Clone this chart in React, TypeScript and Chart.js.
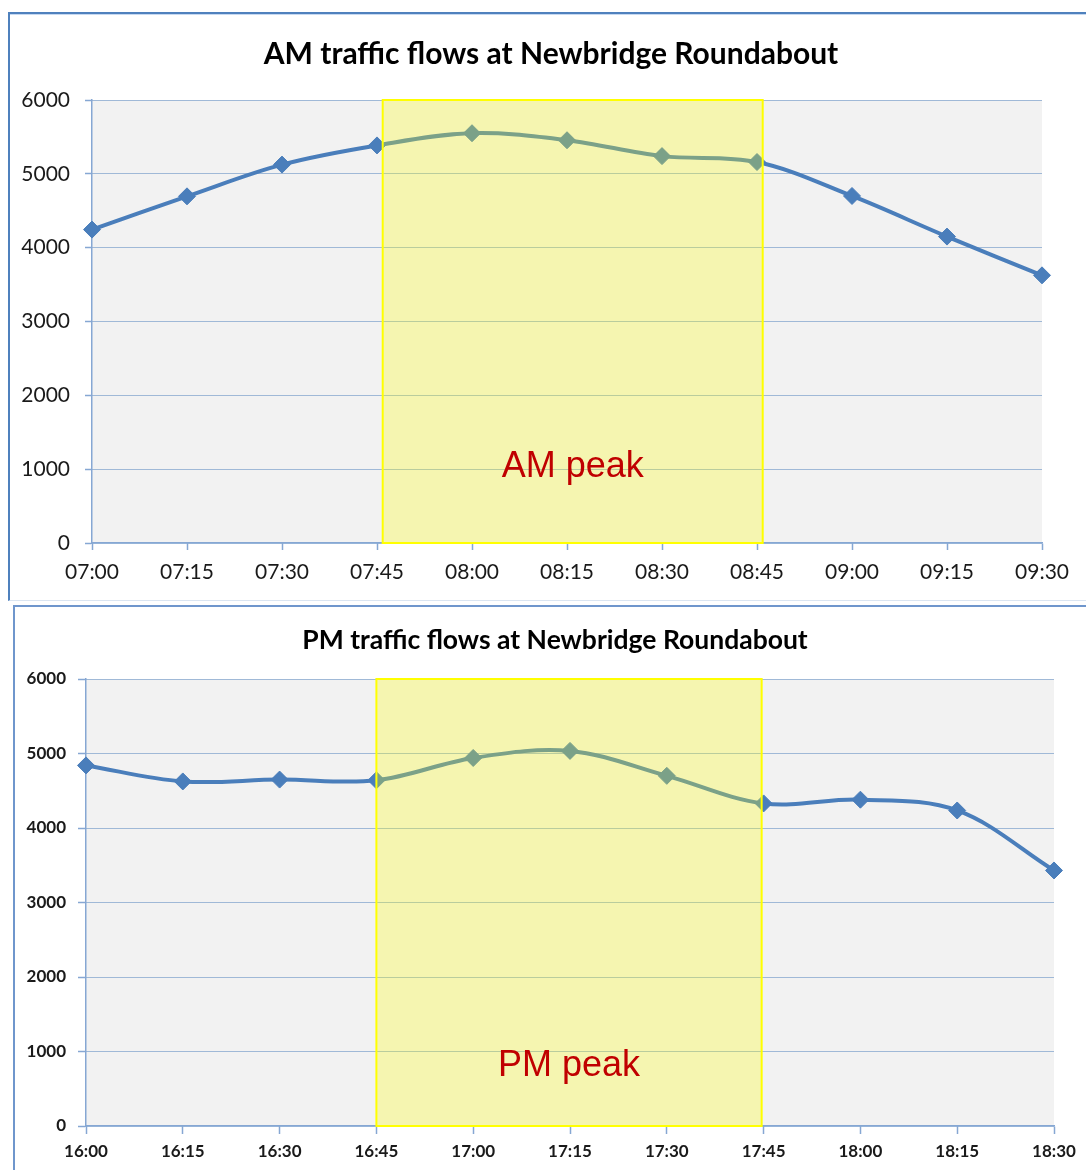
import React, { useEffect, useRef } from "react";
import { Chart, registerables } from "chart.js";

Chart.register(...registerables);

// ---- data ----
const amTimes = ["07:00", "07:15", "07:30", "07:45", "08:00", "08:15", "08:30", "08:45", "09:00", "09:15", "09:30"];
const amFlows = [4245, 4695, 5125, 5385, 5550, 5455, 5240, 5160, 4700, 4150, 3625];
const pmTimes = ["16:00", "16:15", "16:30", "16:45", "17:00", "17:15", "17:30", "17:45", "18:00", "18:15", "18:30"];
const pmFlows = [4840, 4625, 4650, 4640, 4940, 5035, 4700, 4330, 4380, 4235, 3430];
const yTickValues = [0, 1000, 2000, 3000, 4000, 5000, 6000];
const amTitle = "AM traffic flows at Newbridge Roundabout";
const pmTitle = "PM traffic flows at Newbridge Roundabout";
const amPeakRange = [3.06, 7.06]; // category index span of the highlighted peak
const pmPeakRange = [3, 6.98];
const amPeakLabel = "AM peak";
const pmPeakLabel = "PM peak";
const amPeakLabelValue = 890;
const pmPeakLabelValue = 670;

const LINE = "#4a7ebb";
const AXIS = "#86a7d3";
const GRID = "#4f81bd";

const plotBg = {
  id: "plotBg",
  beforeDraw(chart: any) {
    const { ctx, chartArea } = chart;
    ctx.save();
    ctx.fillStyle = "#f2f2f2";
    ctx.fillRect(chartArea.left, chartArea.top, chartArea.right - chartArea.left, chartArea.bottom - chartArea.top);
    ctx.restore();
  },
};

const peakBox = {
  id: "peakBox",
  afterDatasetsDraw(chart: any, _args: any, opts: any) {
    const { ctx, scales } = chart;
    const x = scales.x;
    const y = scales.y;
    const x1 = x.getPixelForValue(opts.range[0]);
    const x2 = x.getPixelForValue(opts.range[1]);
    const y1 = y.getPixelForValue(y.max);
    const y2 = y.getPixelForValue(y.min);
    ctx.save();
    ctx.fillStyle = "rgba(255,255,0,0.27)";
    ctx.fillRect(x1, y1, x2 - x1, y2 - y1);
    ctx.strokeStyle = "#ffff00";
    ctx.lineWidth = 2;
    ctx.strokeRect(x1, y1, x2 - x1, y2 - y1);
    ctx.fillStyle = "#c00000";
    ctx.font = '36px "Liberation Sans", Arial, sans-serif';
    ctx.textAlign = "center";
    ctx.textBaseline = "alphabetic";
    ctx.fillText(opts.label, (x1 + x2) / 2, y.getPixelForValue(opts.labelValue));
    ctx.restore();
  },
};

type Geo = {
  yWidth: number;
  xHeight: number;
  rightPad: number;
  titleSize: number;
  titlePadTop: number;
  titlePadBottom: number;
  tickSize: number;
  tickWeight: string;
  yTickLen: number;
  yTickPad: number;
  xTickLen: number;
  xTickPad: number;
};

function makeConfig(labels: string[], values: number[], title: string, range: number[], label: string, labelValue: number, g: Geo): any {
  const tickFont = { family: "Lato, 'Liberation Sans', sans-serif", size: g.tickSize, weight: g.tickWeight, lineHeight: 1.2 };
  return {
    type: "line",
    data: {
      labels,
      datasets: [
        {
          data: values,
          borderColor: LINE,
          backgroundColor: LINE,
          borderWidth: 4,
          tension: 0.35,
          pointStyle: "rectRot",
          pointRadius: 8.5,
          pointBorderWidth: 1,
          pointBackgroundColor: LINE,
          pointBorderColor: LINE,
        },
      ],
    },
    options: {
      animation: false,
      responsive: false,
      devicePixelRatio: 1,
      layout: { padding: 0 },
      plugins: {
        legend: { display: false },
        tooltip: { enabled: false },
        title: {
          display: true,
          text: title,
          color: "#000",
          font: { family: "Lato, 'Liberation Sans', sans-serif", size: g.titleSize, weight: "bold", lineHeight: 1.2 },
          padding: { top: g.titlePadTop, bottom: g.titlePadBottom },
        },
        peakBox: { range, label, labelValue },
      },
      scales: {
        x: {
          type: "category",
          offset: false,
          grid: {
            display: true,
            drawOnChartArea: false,
            drawTicks: true,
            tickLength: g.xTickLen,
            tickColor: AXIS,
            tickWidth: 1.5,
            offset: false,
          },
          border: { display: true, color: AXIS, width: 1.5 },
          ticks: { color: "#1a1a1a", font: tickFont, padding: g.xTickPad, maxRotation: 0, autoSkip: false },
          afterFit(scale: any) {
            scale.height = g.xHeight;
          },
        },
        y: {
          position: "left",
          min: 0,
          max: 6000,
          grid: {
            color: GRID,
            lineWidth: 1,
            drawTicks: true,
            tickLength: g.yTickLen,
            tickColor: AXIS,
            tickWidth: 1.5,
            tickBorderDash: [],
          },
          border: { display: true, color: AXIS, width: 1.5, dash: [1, 1] },
          ticks: {
            color: "#1a1a1a",
            font: tickFont,
            padding: g.yTickPad,
            callback: (v: any) => String(v),
          },
          afterBuildTicks(scale: any) {
            scale.ticks = yTickValues.map((v) => ({ value: v }));
          },
          afterFit(scale: any) {
            scale.width = g.yWidth;
          },
        },
        spacer: {
          type: "linear",
          position: "right",
          display: true,
          grid: { display: false, drawOnChartArea: false, drawTicks: false },
          border: { display: false },
          ticks: { display: false },
          afterFit(scale: any) {
            scale.width = g.rightPad;
          },
        },
      },
    },
    plugins: [plotBg, peakBox],
  };
}

function LineChart(props: { width: number; height: number; cfg: () => any }) {
  const ref = useRef<HTMLCanvasElement | null>(null);
  useEffect(() => {
    if (!ref.current) return;
    const chart = new Chart(ref.current, props.cfg());
    return () => chart.destroy();
  }, []);
  return <canvas ref={ref} width={props.width} height={props.height} style={{ display: "block", width: props.width, height: props.height }} />;
}

const amGeo: Geo = {
  yWidth: 82,
  xHeight: 57,
  rightPad: 50,
  titleSize: 30,
  titlePadTop: 22,
  titlePadBottom: 28,
  tickSize: 21,
  tickWeight: "normal",
  yTickLen: 7,
  yTickPad: 15,
  xTickLen: 7,
  xTickPad: 10,
};

const pmGeo: Geo = {
  yWidth: 71,
  xHeight: 44,
  rightPad: 41,
  titleSize: 26.5,
  titlePadTop: 17.5,
  titlePadBottom: 22.7,
  tickSize: 17,
  tickWeight: "bold",
  yTickLen: 8,
  yTickPad: 12,
  xTickLen: 8,
  xTickPad: 7,
};

export default function App() {
  return (
    <div style={{ position: "fixed", left: 0, top: 0, width: 1086, height: 1170, overflow: "hidden", background: "#fff" }}>
      <div
        style={{
          position: "absolute",
          left: 8,
          top: 12,
          width: 1200,
          height: 586,
          borderTop: "2px solid #4f81bd",
          borderLeft: "2px solid #4f81bd",
          borderBottom: "1px solid #dbe5f1",
          boxShadow: "inset 0 1px 0 #c6d9f1",
        }}
      >
        <LineChart width={1082} height={586} cfg={() => makeConfig(amTimes, amFlows, amTitle, amPeakRange, amPeakLabel, amPeakLabelValue, amGeo)} />
      </div>
      <div
        style={{
          position: "absolute",
          left: 13,
          top: 605,
          width: 1200,
          height: 600,
          borderTop: "2px solid #6f96cc",
          borderLeft: "2px solid #6f96cc",
        }}
      >
        <LineChart width={1080} height={563} cfg={() => makeConfig(pmTimes, pmFlows, pmTitle, pmPeakRange, pmPeakLabel, pmPeakLabelValue, pmGeo)} />
      </div>
    </div>
  );
}
